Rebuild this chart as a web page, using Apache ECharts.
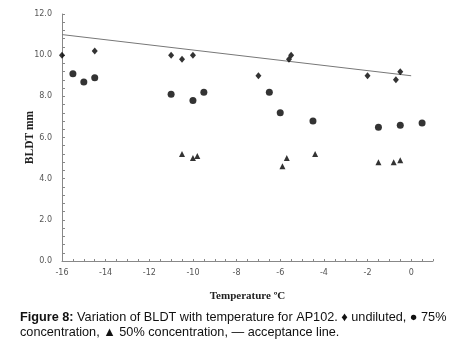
<!DOCTYPE html>
<html><head><meta charset="utf-8">
<script src="https://cdn.jsdelivr.net/npm/echarts@6/dist/echarts.min.js"></script>
<style>html,body{margin:0;padding:0;background:#fff}#c{width:458px;height:345px}</style>
</head><body><div id="c"></div>
<script>
var undilutedX = [-16, -14.5, -11, -10.5, -10, -7, -5.6, -5.5, -2, -0.7, -0.5];
var undilutedY = [10.0, 10.2, 10.0, 9.8, 10.0, 9.0, 9.8, 10.0, 9.0, 8.8, 9.2];
var conc75X = [-15.5, -15, -14.5, -11, -10, -9.5, -6.5, -6, -4.5, -1.5, -0.5, 0.5];
var conc75Y = [9.1, 8.7, 8.9, 8.1, 7.8, 8.2, 8.2, 7.2, 6.8, 6.5, 6.6, 6.7];
var conc50X = [-10.5, -10, -9.8, -5.9, -5.7, -4.4, -1.5, -0.8, -0.5];
var conc50Y = [5.2, 5.0, 5.1, 4.6, 5.0, 5.2, 4.8, 4.8, 4.9];
var acceptX = [-16, 0];
var acceptY = [11.0, 9.0];
var xTicks = [-16, -14, -12, -10, -8, -6, -4, -2, 0];

function pairs(xs, ys){ return xs.map(function(x,i){ return [x, ys[i]]; }); }

var chart = echarts.init(document.getElementById('c'), null, {renderer:'canvas'});
var axisLab = {color:'#555', fontSize:8, fontFamily:'DejaVu Sans'};
chart.setOption({
  animation:false,
  grid:{left:62, right:25, top:14, bottom:84, containLabel:false},
  xAxis:{type:'value', min:-16, max:1, interval:2,
    axisLine:{onZero:false, lineStyle:{color:'#888', width:1}},
    axisTick:{show:true, inside:true, length:2, lineStyle:{color:'#888'}},
    minorTick:{show:true, splitNumber:4, length:2, lineStyle:{color:'#888'}},
    splitLine:{show:false},
    axisLabel:Object.assign({margin:8, formatter:function(v){ return xTicks.indexOf(v)>=0 ? String(v) : ''; }}, axisLab),
    name:'Temperature \u00BAC', nameLocation:'middle', nameGap:30, nameMoveOverlap:false,
    nameTextStyle:{fontFamily:'Liberation Serif', fontWeight:'bold', fontSize:11, color:'#222'}
  },
  yAxis:{type:'value', min:0, max:12, interval:2,
    axisLine:{show:true, onZero:false, lineStyle:{color:'#888', width:1}},
    axisTick:{show:true, inside:true, length:3, lineStyle:{color:'#888'}},
    minorTick:{show:true, splitNumber:5, length:3, lineStyle:{color:'#888'}},
    splitLine:{show:false},
    axisLabel:Object.assign({margin:10, formatter:function(v){ return v.toFixed(1); }}, axisLab),
    name:'BLDT mm', nameLocation:'middle', nameGap:26, nameRotate:90, nameMoveOverlap:false,
    nameTextStyle:{fontFamily:'Liberation Serif', fontWeight:'bold', fontSize:11.5, color:'#222'}
  },
  series:[
    {type:'line', data:pairs(acceptX, acceptY), symbol:'none', lineStyle:{color:'#777', width:1}, z:1},
    {type:'scatter', data:pairs(undilutedX, undilutedY), symbol:'diamond', symbolSize:[6,7], itemStyle:{color:'#000'}},
    {type:'scatter', data:pairs(conc75X, conc75Y), symbol:'circle', symbolSize:7, itemStyle:{color:'#000'}},
    {type:'scatter', data:pairs(conc50X, conc50Y), symbol:'triangle', symbolSize:6, itemStyle:{color:'#000'}}
  ],
  graphic:[
    {type:'text', left:20, top:310, style:{
      text:'{b|Figure 8:} Variation of BLDT with temperature for AP102. \u2666 undiluted, \u25CF 75%\nconcentration, \u25B2 50% concentration, \u2014 acceptance line.',
      font:'12.7px "Liberation Sans"', fill:'#111', lineHeight:15,
      rich:{b:{fontWeight:'bold', fontFamily:'Liberation Sans', fontSize:12.7, fill:'#111'}}
    }}
  ]
});
</script></body></html>
